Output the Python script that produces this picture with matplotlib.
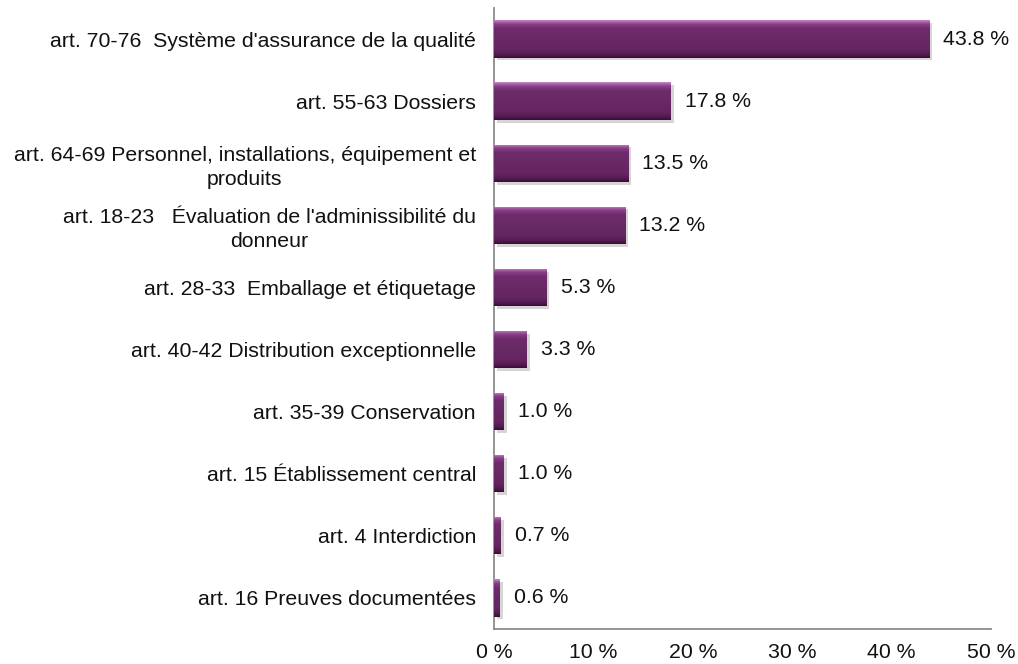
import matplotlib.pyplot as plt
import matplotlib.patheffects as pe
import numpy as np
from matplotlib.colors import LinearSegmentedColormap

plt.rcParams["font.family"] = ["Liberation Sans", "DejaVu Sans"]

categories = [
    "art. 70-76  Système d'assurance de la qualité",
    "art. 55-63 Dossiers",
    "art. 64-69 Personnel, installations, équipement et\nproduits",
    "art. 18-23   Évaluation de l'adminissibilité du\ndonneur",
    "art. 28-33  Emballage et étiquetage",
    "art. 40-42 Distribution exceptionnelle",
    "art. 35-39 Conservation",
    "art. 15 Établissement central",
    "art. 4 Interdiction",
    "art. 16 Preuves documentées",
]
values = [43.8, 17.8, 13.5, 13.2, 5.3, 3.3, 1.0, 1.0, 0.7, 0.6]
xticks = [0, 10, 20, 30, 40, 50]

FS = 15.3

# vertical shading for the bevelled bars: light rim on top, dark rim at bottom
bar_cmap = LinearSegmentedColormap.from_list(
    "bevel",
    [(0.00, "#c583c2"), (0.10, "#8a3f88"), (0.22, "#6e2c6c"),
     (0.80, "#64255f"), (0.92, "#521a50"), (1.00, "#3a0e38")])
grad = np.linspace(0, 1, 64).reshape(-1, 1)

fig = plt.figure(figsize=(10.18, 6.64), dpi=100)
ax = fig.add_axes([0.4853, 0.0527, 0.4882, 0.9353])

ypos = np.arange(len(values))
bh = 0.6
bars = ax.barh(ypos, values, height=bh, color="#6a2a68", linewidth=0)
for rect, v in zip(bars, values):
    rect.set_path_effects([pe.SimplePatchShadow(offset=(2, -2), shadow_rgbFace="#888888", alpha=0.35),
                           pe.Normal()])
    y0 = rect.get_y()
    im = ax.imshow(grad, cmap=bar_cmap, aspect="auto", interpolation="bilinear",
                   extent=(0, v, y0 + bh, y0), origin="upper", zorder=3)
    im.set_clip_path(rect)
    ax.annotate(f"{v:.1f} %", xy=(v, rect.get_y() + bh / 2), xytext=(10, 0),
                textcoords="offset points", va="center", ha="left",
                fontsize=FS, color="#111111")

ax.set_xlim(0, 50)
ax.set_ylim(len(values) - 0.5, -0.5)
ax.set_xticks(xticks)
ax.set_xticklabels([f"{t} %" for t in xticks], fontsize=FS)
ax.set_yticks(ypos)
ax.set_yticklabels(categories, fontsize=FS)
for lbl in ax.get_yticklabels():
    lbl.set_multialignment("center")
    lbl.set_linespacing(1.3)
ax.tick_params(axis="both", length=0, colors="#111111")
ax.tick_params(axis="y", pad=13)
ax.tick_params(axis="x", pad=10)

for side in ("top", "right"):
    ax.spines[side].set_visible(False)
for side in ("left", "bottom"):
    ax.spines[side].set_color("#8c8c8c")
    ax.spines[side].set_linewidth(1.3)

fig.savefig("out.png", dpi=100)
